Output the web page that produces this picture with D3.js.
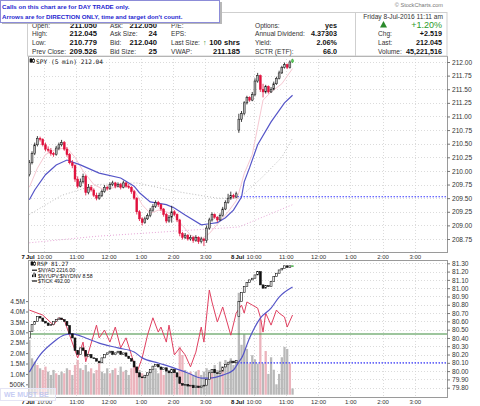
<!DOCTYPE html>
<html>
<head>
<meta charset="utf-8">
<script src="https://cdn.jsdelivr.net/npm/d3@7"></script>
<style>
  body { margin: 0; background: #fff; }
  svg { display: block; font-family: "Liberation Sans", Arial, sans-serif; }
</style>
</head>
<body>
<div id="chart"></div>
<script>
// ---------- DATA ----------
// two sessions of 5 minute bars, 78 bars per day, 8 Jul stops at 11:10
const dayLabels = ["7 Jul", "8 Jul"];
const hourLabels = ["10:00", "11:00", "12:00", "1:00", "2:00", "3:00"];
const hourMinutes = [600, 660, 720, 780, 840, 900];   // minutes after midnight
const priceTicks = [208.75, 209.00, 209.25, 209.50, 209.75, 210.00, 210.25, 210.50, 210.75, 211.00, 211.25, 211.50, 211.75, 212.00];
const rspTicks = [79.80, 79.90, 80.00, 80.10, 80.20, 80.30, 80.40, 80.50, 80.60, 80.70, 80.80, 80.90, 81.00, 81.10, 81.20, 81.30];
const volTicks = [0.5, 1.0, 1.5, 2.0, 2.5, 3.0, 3.5, 4.0, 4.5];

// SPY 5 min
const spyOpen = [
  209.93, 210.15, 210.32, 210.48, 210.60, 210.58, 210.48, 210.40, 210.38, 210.32,
  210.30, 210.42, 210.48, 210.52, 210.40, 210.30, 210.15, 210.10, 209.85, 209.72,
  209.80, 209.90, 209.60, 209.70, 209.65, 209.55, 209.50, 209.55, 209.62, 209.70,
  209.68, 209.75, 209.78, 209.72, 209.75, 209.70, 209.78, 209.72, 209.70, 209.62,
  209.50, 209.25, 209.12, 209.05, 209.12, 209.18, 209.28, 209.35, 209.42, 209.38,
  209.30, 209.20, 209.08, 209.15, 209.25, 209.20, 209.10, 208.85, 208.78, 208.82,
  208.75, 208.78, 208.72, 208.78, 208.70, 208.75, 208.72, 208.95, 209.10, 209.20,
  209.15, 209.10, 209.18, 209.30, 209.42, 209.50, 209.55, 209.52,
  210.75, 210.95, 211.05, 211.25, 211.35, 211.30, 211.40, 211.65, 211.75, 211.50,
  211.45, 211.55, 211.45, 211.50, 211.60, 211.70, 211.80, 211.90, 211.95, 211.90, 212.00
];
const spyHigh = [
  210.20, 210.36, 210.52, 210.64, 210.63, 210.60, 210.52, 210.45, 210.42, 210.35,
  210.46, 210.52, 210.57, 210.55, 210.44, 210.33, 210.20, 210.12, 209.90, 209.86,
  209.95, 209.93, 209.76, 209.74, 209.68, 209.60, 209.60, 209.66, 209.74, 209.73,
  209.79, 209.82, 209.80, 209.79, 209.78, 209.82, 209.80, 209.76, 209.72, 209.65,
  209.52, 209.28, 209.15, 209.16, 209.22, 209.32, 209.39, 209.46, 209.45, 209.40,
  209.32, 209.23, 209.19, 209.36, 209.28, 209.22, 209.12, 208.88, 208.86, 208.84,
  208.82, 208.80, 208.82, 208.80, 208.79, 208.77, 209.00, 209.14, 209.24, 209.22,
  209.17, 209.22, 209.34, 209.46, 209.58, 209.62, 209.58, 209.62,
  211.05, 211.10, 211.28, 211.38, 211.37, 211.45, 211.70, 211.80, 211.77, 211.60,
  211.58, 211.57, 211.54, 211.64, 211.73, 211.84, 211.93, 211.99, 211.97, 212.03, 212.06
];
const spyLow = [
  209.90, 210.12, 210.29, 210.45, 210.54, 210.45, 210.36, 210.34, 210.28, 210.26,
  210.28, 210.38, 210.45, 210.37, 210.26, 210.12, 210.05, 209.80, 209.68, 209.70,
  209.77, 209.55, 209.57, 209.62, 209.52, 209.46, 209.47, 209.52, 209.60, 209.64,
  209.65, 209.72, 209.68, 209.70, 209.66, 209.68, 209.69, 209.67, 209.58, 209.47,
  209.20, 209.08, 209.00, 209.03, 209.10, 209.15, 209.25, 209.32, 209.34, 209.27,
  209.16, 209.04, 209.05, 209.05, 209.17, 209.06, 208.80, 208.74, 208.75, 208.72,
  208.72, 208.68, 208.70, 208.66, 208.67, 208.62, 208.68, 208.92, 209.07, 209.12,
  209.06, 209.08, 209.16, 209.28, 209.40, 209.47, 209.49, 209.50,
  210.70, 210.90, 211.02, 211.22, 211.27, 211.28, 211.37, 211.62, 211.45, 211.35,
  211.42, 211.42, 211.43, 211.48, 211.58, 211.68, 211.78, 211.88, 211.87, 211.88, 211.98
];
const spyClose = [
  210.15, 210.32, 210.48, 210.60, 210.58, 210.48, 210.40, 210.38, 210.32, 210.30,
  210.42, 210.48, 210.52, 210.40, 210.30, 210.15, 210.10, 209.85, 209.72, 209.80,
  209.90, 209.60, 209.70, 209.65, 209.55, 209.50, 209.55, 209.62, 209.70, 209.68,
  209.75, 209.78, 209.72, 209.75, 209.70, 209.78, 209.72, 209.70, 209.62, 209.50,
  209.25, 209.12, 209.05, 209.12, 209.18, 209.28, 209.35, 209.42, 209.38, 209.30,
  209.20, 209.08, 209.15, 209.25, 209.20, 209.10, 208.85, 208.78, 208.82, 208.75,
  208.78, 208.72, 208.78, 208.70, 208.75, 208.72, 208.95, 209.10, 209.20, 209.15,
  209.10, 209.18, 209.30, 209.42, 209.50, 209.55, 209.52, 209.58,
  210.95, 211.05, 211.25, 211.35, 211.30, 211.40, 211.65, 211.75, 211.50, 211.45,
  211.55, 211.45, 211.50, 211.60, 211.70, 211.80, 211.90, 211.95, 211.90, 212.00, 212.04
];
const spyPrevClose = 209.526;

// overlays on SPY: [bar, price]
const maBlue = [[0, 209.47], [2, 209.65], [6, 209.93], [10, 210.11], [14, 210.20], [19, 210.11], [26, 209.96],
  [34, 209.87], [39, 209.72], [41, 209.60], [45, 209.43], [51, 209.38], [54, 209.32], [58, 209.19], [64, 209.01],
  [67, 209.03], [70, 209.05], [73, 209.14], [76, 209.28], [79, 209.52], [80, 209.80], [82, 210.06], [85, 210.48],
  [90, 210.90], [95, 211.25], [98, 211.39]];
const maPink = [[0, 209.70], [3, 210.05], [6, 210.30], [10, 210.40], [14, 210.42], [17, 210.25], [20, 210.00],
  [24, 209.75], [28, 209.65], [32, 209.70], [36, 209.73], [39, 209.65], [42, 209.38], [45, 209.22], [48, 209.28],
  [51, 209.25], [54, 209.18], [57, 209.00], [60, 208.82], [64, 208.75], [67, 208.85], [70, 209.02], [74, 209.25],
  [77, 209.45], [78, 209.60], [80, 209.95], [83, 210.30], [85, 210.80], [87, 211.30], [90, 211.45], [94, 211.60], [98, 211.88]];
const maGrey = [[0, 209.20], [12, 209.55], [25, 209.75], [40, 209.78], [55, 209.62], [70, 209.50], [78, 209.50],
  [86, 209.85], [94, 210.25], [98, 210.60]];
const maPinkDot = [[0, 208.68], [25, 208.80], [50, 208.88], [78, 208.97], [98, 209.38]];

// RSP 5 min
const rspOpen = [
  80.40, 80.48, 80.56, 80.60, 80.66, 80.64, 80.60, 80.58, 80.55, 80.56,
  80.60, 80.62, 80.64, 80.62, 80.60, 80.55, 80.45, 80.40, 80.25, 80.20,
  80.28, 80.25, 80.18, 80.20, 80.16, 80.15, 80.12, 80.10, 80.16, 80.20,
  80.22, 80.24, 80.20, 80.22, 80.24, 80.20, 80.22, 80.18, 80.15, 80.12,
  80.05, 79.98, 79.93, 79.92, 79.95, 79.98, 80.02, 80.06, 80.08, 80.05,
  80.02, 80.04, 80.00, 79.98, 80.02, 79.98, 79.93, 79.85, 79.83, 79.84,
  79.82, 79.83, 79.80, 79.82, 79.80, 79.82, 79.83, 79.90, 79.98, 80.02,
  79.98, 79.97, 80.00, 80.05, 80.08, 80.10, 80.12, 80.10,
  80.66, 80.84, 80.95, 81.02, 81.07, 81.10, 81.12, 81.16, 81.20, 81.04,
  81.00, 81.03, 81.02, 81.08, 81.14, 81.18, 81.22, 81.24, 81.27, 81.25, 81.27
];
const rspClose = [
  80.48, 80.56, 80.60, 80.66, 80.64, 80.60, 80.58, 80.55, 80.56, 80.60,
  80.62, 80.64, 80.62, 80.60, 80.55, 80.45, 80.40, 80.25, 80.20, 80.28,
  80.25, 80.18, 80.20, 80.16, 80.15, 80.12, 80.10, 80.16, 80.20, 80.22,
  80.24, 80.20, 80.22, 80.24, 80.20, 80.22, 80.18, 80.15, 80.12, 80.05,
  79.98, 79.93, 79.92, 79.95, 79.98, 80.02, 80.06, 80.08, 80.05, 80.02,
  80.04, 80.00, 79.98, 80.02, 79.98, 79.93, 79.85, 79.83, 79.84, 79.82,
  79.83, 79.80, 79.82, 79.80, 79.82, 79.83, 79.90, 79.98, 80.02, 79.98,
  79.97, 80.00, 80.05, 80.08, 80.10, 80.12, 80.10, 80.13,
  80.84, 80.95, 81.02, 81.07, 81.10, 81.12, 81.16, 81.20, 81.04, 81.00,
  81.03, 81.02, 81.08, 81.14, 81.18, 81.22, 81.24, 81.27, 81.25, 81.27, 81.27
];
const rspPrevClose = 80.10;

// histogram (millions) and its colour flag (1 = pink)
const histValue = [
  2.63, 1.75, 1.59, 1.43, 1.27, 1.19, 1.35, 1.11, 0.95, 1.19,
  1.03, 0.95, 1.11, 1.03, 1.27, 1.19, 0.95, 1.43, 1.67, 1.27,
  1.19, 1.43, 1.11, 1.27, 1.03, 1.19, 1.51, 1.11, 1.03, 1.27,
  1.03, 1.19, 1.27, 0.95, 1.35, 1.11, 1.19, 0.95, 1.27, 1.43,
  1.27, 1.19, 1.03, 0.95, 1.03, 1.11, 1.19, 1.27, 1.03, 1.19,
  0.95, 1.11, 1.19, 1.27, 1.03, 0.95, 2.31, 1.91, 1.19, 1.03,
  1.11, 0.95, 1.11, 1.19, 0.95, 1.11, 1.27, 1.19, 1.03, 1.43,
  1.19, 1.59, 1.27, 1.67, 1.59, 1.75, 1.43, 1.67,
  4.90, 2.40, 2.90, 2.20, 1.50, 1.90, 1.70, 1.50, 3.60, 1.50,
  2.10, 1.00, 1.80, 1.20, 0.50, 1.00, 1.80, 2.30, 2.20, 1.50, 0.30
];
const histPink = [
  0, 0, 0, 1, 0, 1, 1, 0, 0, 0,
  1, 0, 0, 1, 0, 1, 0, 1, 1, 0,
  1, 0, 0, 1, 0, 1, 1, 0, 0, 0,
  1, 0, 1, 0, 0, 1, 0, 0, 1, 1,
  1, 0, 1, 0, 0, 0, 0, 0, 0, 1,
  1, 0, 0, 0, 1, 0, 1, 1, 0, 0,
  1, 0, 0, 1, 0, 0, 0, 0, 1, 0,
  0, 0, 1, 0, 0, 0, 0, 0,
  0, 0, 0, 0, 1, 0, 0, 0, 1, 0,
  1, 0, 0, 0, 0, 0, 0, 0, 0, 1, 0
];

// $NYAD and $TICK lines: [bar, value]
const nyad = [[0, -950], [4, -310], [9, 170], [13, 430], [16, 470], [21, 320], [26, 130], [33, -50], [39, -200],
  [42, -420], [48, -610], [54, -800], [59, -980], [64, -1170], [67, -1170], [72, -1060], [76, -870], [78, -570],
  [79, -430], [82, 320], [86, 1060], [90, 1430], [93, 1840], [98, 2216]];
const tick = [[0, 620], [5, 490], [9, 230], [11, 420], [13, 360], [15, -30], [18, -620], [20, -210], [21, -720],
  [25, 230], [26, -100], [28, 100], [30, -210], [32, 180], [34, -360], [36, -100], [38, -540], [40, -1010],
  [42, -620], [44, -30], [46, 420], [48, 50], [49, 180], [51, -210], [52, 230], [54, -540], [56, -360], [58, -540],
  [60, -850], [62, -470], [64, 180], [65, -210], [67, 1140], [68, 830], [70, 310], [72, 700], [75, -30], [77, 540],
  [79, 750], [80, 540], [81, 830], [83, 750], [85, 670], [86, 440], [87, 50], [88, 540], [90, 230], [92, 620],
  [93, 540], [95, 440], [96, 180], [98, 492]];

// header table
const headerLeft = [
  ["Open:", "211.050", "Ask:", "212.050", "P/E:", ""],
  ["High:", "212.045", "Ask Size:", "24", "EPS:", ""],
  ["Low:", "210.779", "Bid:", "212.040", "Last Size:", "100 shrs"],
  ["Prev Close:", "209.526", "Bid Size:", "25", "VWAP:", "211.185"]
];
const headerRight = [
  ["Options:", "yes", "", ""],
  ["Annual Dividend:", "4.37303", "Chg:", "+2.519"],
  ["Yield:", "2.06%", "Last:", "212.045"],
  ["SCTR (ETF):", "66.0", "Volume:", "45,221,516"]
];

// ---------- LAYOUT ----------
const width = 480, height = 406;
const plot = { left: 28, right: 447 };
const topPanel = { top: 56, bottom: 252 };
const lowPanel = { top: 260, bottom: 397 };
const barsPerDay = 78;

const svg = d3.select("#chart").append("svg")
  .attr("width", width)
  .attr("height", height);

const xScale = d3.scaleLinear()
  .domain([0, barsPerDay * 2])
  .range([plot.left, plot.right]);
const barW = xScale(1) - xScale(0);
const xBar = i => xScale(i + 0.5);

const yPrice = d3.scaleLinear().domain([208.75, 212.00]).range([239, 62]);
const yRsp = d3.scaleLinear().domain([79.80, 81.30]).range([387.7, 263.3]);
const yVol = d3.scaleLinear().domain([0, 4.5]).range([394.7, 301.1]);
const yNyad = d3.scaleLinear().domain([-1800, 3100]).range([395, 263.2]);
const yTick = d3.scaleLinear().domain([-1000, 1000]).range([372.6, 295.4]);

const minuteToBar = m => (m - 570) / 5;
const hourBars = [];
[0, 1].forEach(day => hourMinutes.forEach((m, k) => hourBars.push({ bar: day * barsPerDay + minuteToBar(m), label: hourLabels[k] })));

// clip paths
const defs = svg.append("defs");
defs.append("clipPath").attr("id", "clipTop").append("rect")
  .attr("x", plot.left).attr("y", topPanel.top).attr("width", plot.right - plot.left).attr("height", topPanel.bottom - topPanel.top);
defs.append("clipPath").attr("id", "clipLow").append("rect")
  .attr("x", plot.left).attr("y", lowPanel.top).attr("width", plot.right - plot.left).attr("height", lowPanel.bottom - lowPanel.top);

function grid(panel, yScale, values) {
  const g = svg.append("g").attr("stroke", "#d2d2d2").attr("stroke-dasharray", "1,2").attr("stroke-width", 0.8);
  g.selectAll(".h").data(values).join("line")
    .attr("x1", plot.left).attr("x2", plot.right)
    .attr("y1", d => Math.round(yScale(d)) + 0.5).attr("y2", d => Math.round(yScale(d)) + 0.5);
  g.selectAll(".v").data(hourBars).join("line")
    .attr("x1", d => Math.round(xScale(d.bar)) + 0.5).attr("x2", d => Math.round(xScale(d.bar)) + 0.5)
    .attr("y1", panel.top).attr("y2", panel.bottom);
}

function lineOf(points, yScale) {
  return d3.line().x(d => xBar(d[0])).y(d => yScale(d[1]))(points);
}

// ---------- TOP PANEL : SPY ----------
grid(topPanel, yPrice, priceTicks);

const topG = svg.append("g").attr("clip-path", "url(#clipTop)");
topG.append("path").attr("d", lineOf(maPinkDot, yPrice))
  .attr("fill", "none").attr("stroke", "#e8a6d8").attr("stroke-width", 1).attr("stroke-dasharray", "1,2");
topG.append("path").attr("d", lineOf(maGrey, yPrice))
  .attr("fill", "none").attr("stroke", "#bdbdbd").attr("stroke-width", 1).attr("stroke-dasharray", "1,2");
topG.append("path").attr("d", lineOf(maPink, yPrice))
  .attr("fill", "none").attr("stroke", "#f6c8d2").attr("stroke-width", 1);
topG.append("path").attr("d", lineOf(maBlue, yPrice))
  .attr("fill", "none").attr("stroke", "#5555c8").attr("stroke-width", 1.2);

// previous close, drawn over today's session
topG.append("line")
  .attr("x1", xScale(barsPerDay)).attr("x2", plot.right)
  .attr("y1", yPrice(spyPrevClose)).attr("y2", yPrice(spyPrevClose))
  .attr("stroke", "#3a3aff").attr("stroke-width", 1.2).attr("stroke-dasharray", "1.5,1.5");

const spyBars = spyClose.map((c, i) => ({ i, o: spyOpen[i], h: spyHigh[i], l: spyLow[i], c }));
const lastBar = spyBars.length - 1;
const candleColor = d => d.i === lastBar ? "#33a833" : (d.c < d.o ? "#e0103c" : "#111");
const candleFill = d => d.i === lastBar ? "#66cc66" : (d.c < d.o ? "#e0103c" : "#b8b8b8");

const spyG = topG.append("g");
spyG.selectAll("line").data(spyBars).join("line")
  .attr("x1", d => xBar(d.i)).attr("x2", d => xBar(d.i))
  .attr("y1", d => yPrice(d.h)).attr("y2", d => yPrice(d.l))
  .attr("stroke", candleColor).attr("stroke-width", 0.8);
spyG.selectAll("rect").data(spyBars).join("rect")
  .attr("x", d => xBar(d.i) - (barW - 0.8) / 2)
  .attr("width", barW - 0.8)
  .attr("y", d => yPrice(Math.max(d.o, d.c)))
  .attr("height", d => Math.max(0.8, Math.abs(yPrice(d.o) - yPrice(d.c))))
  .attr("fill", candleFill)
  .attr("stroke", candleColor).attr("stroke-width", 0.5);

// ---------- LOWER PANEL : RSP + breadth ----------
grid(lowPanel, yRsp, rspTicks);

const lowG = svg.append("g").attr("clip-path", "url(#clipLow)");
lowG.selectAll("rect.hist").data(histValue).join("rect")
  .attr("class", "hist")
  .attr("x", (d, i) => xScale(i) + 0.2)
  .attr("width", barW - 0.4)
  .attr("y", d => yVol(d))
  .attr("height", d => yVol(0) - yVol(d))
  .attr("fill", (d, i) => histPink[i] ? "#ebb3bc" : "#b9b9b9");

lowG.append("line")
  .attr("x1", plot.left).attr("x2", plot.right)
  .attr("y1", yTick(0)).attr("y2", yTick(0))
  .attr("stroke", "#3c8c3c").attr("stroke-width", 1.2);
lowG.append("line")
  .attr("x1", xScale(barsPerDay)).attr("x2", plot.right)
  .attr("y1", yRsp(rspPrevClose)).attr("y2", yRsp(rspPrevClose))
  .attr("stroke", "#3a3aff").attr("stroke-width", 1.2).attr("stroke-dasharray", "1.5,1.5");

lowG.append("path").attr("d", lineOf(tick, yTick))
  .attr("fill", "none").attr("stroke", "#e04060").attr("stroke-width", 1);
lowG.append("path").attr("d", d3.line().curve(d3.curveMonotoneX).x(d => xBar(d[0])).y(d => yNyad(d[1]))(nyad))
  .attr("fill", "none").attr("stroke", "#5555c8").attr("stroke-width", 1.2);

const rspBars = rspClose.map((c, i) => ({ i, o: rspOpen[i], c }));
lowG.selectAll("rect.rsp").data(rspBars).join("rect")
  .attr("class", "rsp")
  .attr("x", d => xBar(d.i) - (barW - 0.8) / 2)
  .attr("width", barW - 0.8)
  .attr("y", d => yRsp(Math.max(d.o, d.c)))
  .attr("height", d => Math.max(0.8, Math.abs(yRsp(d.o) - yRsp(d.c))))
  .attr("fill", d => d.i === lastBar ? "#66cc66" : (d.c < d.o ? "#111" : "#fff"))
  .attr("stroke", d => d.i === lastBar ? "#33a833" : "#111").attr("stroke-width", 0.6);

// ---------- FRAMES ----------
[topPanel, lowPanel].forEach(p => {
  svg.append("rect")
    .attr("x", plot.left + 0.5).attr("y", p.top + 0.5)
    .attr("width", plot.right - plot.left).attr("height", p.bottom - p.top)
    .attr("fill", "none").attr("stroke", "#9a9a9a").attr("stroke-width", 1);
});

// ---------- AXES ----------
function styleAxis(g, size) {
  g.select(".domain").remove();
  g.selectAll(".tick line").attr("stroke", "#777");
  g.selectAll("text").attr("font-size", size).attr("fill", "#333").style("font-family", "Liberation Sans, Arial, sans-serif");
}

svg.append("g")
  .attr("transform", `translate(${plot.right},0)`)
  .call(d3.axisRight(yPrice).tickValues(priceTicks).tickFormat(d3.format(".2f")).tickSize(3).tickPadding(2))
  .call(g => styleAxis(g, 6.6));
svg.append("g")
  .attr("transform", `translate(${plot.right},0)`)
  .call(d3.axisRight(yRsp).tickValues(rspTicks).tickFormat(d3.format(".2f")).tickSize(3).tickPadding(2))
  .call(g => styleAxis(g, 6.6));
svg.append("g")
  .attr("transform", `translate(${plot.left},0)`)
  .call(d3.axisLeft(yVol).tickValues(volTicks).tickFormat(d => d < 1 ? d * 1000 + "K" : d.toFixed(1) + "M").tickSize(2).tickPadding(1))
  .call(g => styleAxis(g, 6.6));

[topPanel.bottom, lowPanel.bottom].forEach(yb => {
  const ax = svg.append("g")
    .attr("transform", `translate(0,${yb})`)
    .call(d3.axisBottom(xScale).tickValues(hourBars.map(d => d.bar)).tickFormat((d, k) => hourBars[k].label).tickSize(0).tickPadding(2.5))
    .call(g => styleAxis(g, 6));
  ax.selectAll(".tick text").attr("dy", "0.71em");
  ax.selectAll(".day").data(dayLabels).join("text")
    .attr("class", "day")
    .attr("x", (d, k) => xScale(k * barsPerDay))
    .attr("y", 2.5).attr("dy", "0.71em")
    .attr("text-anchor", "middle")
    .attr("font-size", 6).attr("font-weight", "bold").attr("fill", "#111")
    .text(d => d.replace(" ", "\u2009"));
});

// ---------- LEGENDS ----------
function candleIcon(x, y) {
  const g = svg.append("g").attr("stroke", "#111").attr("stroke-width", 0.7);
  g.append("line").attr("x1", x + 1).attr("x2", x + 1).attr("y1", y - 5).attr("y2", y);
  g.append("rect").attr("x", x).attr("y", y - 4).attr("width", 2).attr("height", 3).attr("fill", "#111");
  g.append("line").attr("x1", x + 3.5).attr("x2", x + 3.5).attr("y1", y - 5).attr("y2", y);
  g.append("rect").attr("x", x + 2.5).attr("y", y - 3.5).attr("width", 2).attr("height", 2.5).attr("fill", "#fff");
}
candleIcon(30, 63);
svg.append("text").attr("x", 36).attr("y", 63.5)
  .attr("font-family", "DejaVu Sans Mono, monospace").attr("font-size", 6.2).attr("fill", "#111")
  .text("SPY (5 min) 212.04");

candleIcon(31, 266);
svg.append("text").attr("x", 37).attr("y", 266.3)
  .attr("font-family", "DejaVu Sans Mono, monospace").attr("font-size", 5.8).attr("fill", "#111")
  .text("RSP 81.27");

const legendRows = [
  { y: 272.2, text: "$NYAD 2216.00", icon: "line" },
  { y: 277.6, text: "$NYUPV:$NYDNV 8.58", icon: "bars" },
  { y: 283, text: "$TICK 492.00", icon: "line" }
];
legendRows.forEach(r => {
  if (r.icon === "line") {
    svg.append("line").attr("x1", 32).attr("x2", 37).attr("y1", r.y - 2).attr("y2", r.y - 2)
      .attr("stroke", "#111").attr("stroke-width", 1.2);
  } else {
    [0, 1.5, 3].forEach((dx, k) => svg.append("rect").attr("x", 32 + dx).attr("y", r.y - 1 - [2, 4, 3][k])
      .attr("width", 1).attr("height", [2, 4, 3][k] + 0.5).attr("fill", "#111"));
  }
  svg.append("text").attr("x", 38).attr("y", r.y)
    .attr("font-size", 5.2).attr("fill", "#111").text(r.text);
});

// ---------- HEADER ----------
svg.append("text").attr("x", 443).attr("y", 7).attr("text-anchor", "end")
  .attr("font-size", 5.6).attr("fill", "#777").text("\u00a9 StockCharts.com");

svg.append("rect").attr("x", 27.5).attr("y", 12.5).attr("width", 419.5).attr("height", 43.5)
  .attr("fill", "none").attr("stroke", "#cfcfcf");
svg.append("line").attr("x1", 355.5).attr("x2", 355.5).attr("y1", 12.5).attr("y2", 56).attr("stroke", "#cfcfcf");

const rowY = [27.5, 36.3, 45.2, 54];
const hdr = svg.append("g");
headerLeft.forEach((row, r) => {
  const y = rowY[r];
  [[32, 97], [110, 157], [171, 240]].forEach((col, k) => {
    hdr.append("text").attr("x", col[0]).attr("y", y).attr("font-size", 6.6).attr("fill", "#333").text(row[k * 2]);
    hdr.append("text").attr("x", col[1]).attr("y", y).attr("text-anchor", "end")
      .attr("font-size", 7.6).attr("font-weight", "bold").attr("fill", "#111").text(row[k * 2 + 1]);
  });
});
hdr.append("text").attr("x", 203).attr("y", 45.4).attr("font-size", 7).attr("font-weight", "bold")
  .attr("fill", "#1a8a1a").text("\u2191");
headerRight.forEach((row, r) => {
  const y = rowY[r];
  hdr.append("text").attr("x", 255).attr("y", y).attr("font-size", 6.6).attr("fill", "#333").text(row[0]);
  hdr.append("text").attr("x", 337).attr("y", y).attr("text-anchor", "end")
    .attr("font-size", 7.2).attr("font-weight", "bold").attr("fill", "#111").text(row[1]);
  hdr.append("text").attr("x", 378).attr("y", y).attr("font-size", 6.6).attr("fill", "#333").text(row[2]);
  hdr.append("text").attr("x", 442).attr("y", y).attr("text-anchor", "end")
    .attr("font-size", 7.2).attr("font-weight", "bold").attr("fill", "#111").text(row[3]);
});
hdr.append("text").attr("x", 443).attr("y", 18.5).attr("text-anchor", "end")
  .attr("font-size", 6.6).attr("fill", "#333").text("Friday  8-Jul-2016  11:11 am");
hdr.append("path").attr("d", "M380,27.5 L383.5,21 L387,27.5 Z").attr("fill", "#2a8a2a");
hdr.append("text").attr("x", 442).attr("y", 28).attr("text-anchor", "end")
  .attr("font-size", 9).attr("fill", "#2a9a2a").text("+1.20%");

// note box over the header
svg.append("rect").attr("x", 2).attr("y", 2).attr("width", 220).attr("height", 22).attr("fill", "#b8b8b8");
svg.append("rect").attr("x", 0.5).attr("y", 0.5).attr("width", 219).attr("height", 22)
  .attr("fill", "#fff").attr("stroke", "#8c8cd8");
svg.append("text").attr("x", 2).attr("y", 9).attr("font-size", 6.2).attr("font-weight", "bold")
  .attr("fill", "#1f1fd0").text("Calls on this chart are for DAY TRADE only.");
svg.append("text").attr("x", 2).attr("y", 18.5).attr("font-size", 6.2).attr("font-weight", "bold")
  .attr("fill", "#1f1fd0").text("Arrows are for DIRECTION ONLY, time and target don't count.");

// faint stamp bottom left
svg.append("rect").attr("x", 0.5).attr("y", 388.5).attr("width", 55).attr("height", 12)
  .attr("fill", "#fff").attr("fill-opacity", 0.55).attr("stroke", "#e4e4f4");
svg.append("text").attr("x", 4).attr("y", 397).attr("font-size", 7).attr("font-weight", "bold")
  .attr("fill", "#b8c0f0").attr("fill-opacity", 0.8).text("WE MUST BE");
</script>
</body>
</html>
